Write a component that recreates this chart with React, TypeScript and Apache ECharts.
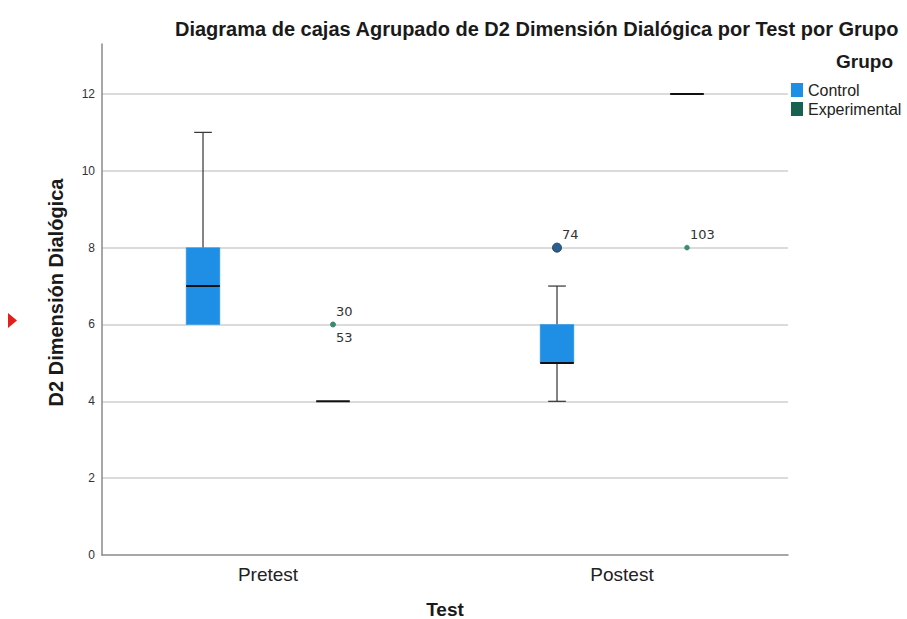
import React, { useEffect, useRef } from 'react';
import * as echarts from 'echarts';

const categories = ['Pretest', 'Postest'];
const groups = ['Control', 'Experimental'];
// [min, Q1, median, Q3, max] per test
const controlBoxes = [
  [6, 6, 7, 8, 11],
  [4, 5, 5, 6, 7],
];
const experimentalBoxes = [
  [4, 4, 4, 4, 4],
  [12, 12, 12, 12, 12],
];
const controlOutliers = [{ test: 'Postest', value: 8, id: '74' }];
const experimentalOutliers = [
  { test: 'Pretest', value: 6, id: '30' },
  { test: 'Pretest', value: 6, id: '53' },
  { test: 'Postest', value: 8, id: '103' },
];
const yMin = 0;
const yMax = 13.3;
const yInterval = 2;

const FONT = "'Liberation Sans', Arial, sans-serif";
const COLORS = { Control: '#1f8fe6', Experimental: '#17614f' };
const OUTLIER_COLORS = { Control: '#2b5f8e', Experimental: '#3d8a74' };
const OFFSET = 0.1836;
const BOXW = 0.095;
const CAPW = 0.05;

const GRID_TOP = 44;
const GRID_BOTTOM = 64;

function boxData(boxes: number[][]) {
  return boxes.map((b, i) => [i, ...b]);
}

function outlierData(list: { test: string; value: number; id: string }[]) {
  return list.map((o, i) => {
    const stack = list.slice(0, i).filter((p) => p.test === o.test && p.value === o.value).length;
    return [categories.indexOf(o.test), o.value, stack, o.id];
  });
}

function makeBoxRender(side: number, color: string) {
  return (params: any, api: any) => {
    const cat = api.value(0);
    const band = api.size([1, 0])[0];
    const cx = api.coord([cat, 0])[0] + side * band * OFFSET;
    const y = (v: number) => api.coord([cat, v])[1];
    const pMin = y(api.value(1));
    const pQ1 = y(api.value(2));
    const pMed = y(api.value(3));
    const pQ3 = y(api.value(4));
    const pMax = y(api.value(5));
    const w = band * BOXW;
    const cw = band * CAPW;
    const wStyle = { stroke: '#333', lineWidth: 1.2 };
    const children: any[] = [];
    if (pMax < pQ3 - 0.5) {
      children.push({ type: 'line', shape: { x1: cx, y1: pQ3, x2: cx, y2: pMax }, style: wStyle });
      children.push({ type: 'line', shape: { x1: cx - cw / 2, y1: pMax, x2: cx + cw / 2, y2: pMax }, style: wStyle });
    }
    if (pMin > pQ1 + 0.5) {
      children.push({ type: 'line', shape: { x1: cx, y1: pQ1, x2: cx, y2: pMin }, style: wStyle });
      children.push({ type: 'line', shape: { x1: cx - cw / 2, y1: pMin, x2: cx + cw / 2, y2: pMin }, style: wStyle });
    }
    if (pQ1 - pQ3 > 0.5) {
      children.push({
        type: 'rect',
        shape: { x: cx - w / 2, y: pQ3, width: w, height: pQ1 - pQ3 },
        style: { fill: color, stroke: color, lineWidth: 0.5 },
      });
    }
    children.push({
      type: 'line',
      shape: { x1: cx - w / 2, y1: pMed, x2: cx + w / 2, y2: pMed },
      style: { stroke: '#111', lineWidth: 2 },
    });
    return { type: 'group', children };
  };
}

function makeOutlierRender(side: number, color: string, big: boolean) {
  return (params: any, api: any) => {
    const cat = api.value(0);
    const band = api.size([1, 0])[0];
    const cx = api.coord([cat, 0])[0] + side * band * OFFSET;
    const cy = api.coord([cat, api.value(1)])[1];
    const stack = api.value(2);
    const id = String(api.value(3));
    const r = big ? 4.5 : 2.5;
    const labelY = stack === 0 ? cy - 13 : cy + 13;
    return {
      type: 'group',
      children: [
        {
          type: 'circle',
          shape: { cx, cy, r },
          style: { fill: color, stroke: big ? '#1d4266' : color, lineWidth: big ? 1 : 0.5 },
        },
        {
          type: 'text',
          x: cx + (big ? 5 : 3),
          y: labelY,
          style: {
            text: id,
            fill: '#333',
            fontSize: 13,
            fontFamily: "'DejaVu Sans', sans-serif",
            verticalAlign: 'middle',
            align: 'left',
          },
        },
      ],
    };
  };
}

export default function App() {
  const ref = useRef<HTMLDivElement>(null);
  useEffect(() => {
    if (!ref.current) return;
    const chart = echarts.init(ref.current, undefined, { renderer: 'svg' });
    const nameStyle = { fontSize: 19, fontWeight: 'bold', color: '#1a1a1a', fontFamily: FONT };
    chart.setOption({
      animation: false,
      backgroundColor: '#ffffff',
      textStyle: { fontFamily: FONT },
      title: [
        {
          text: 'Diagrama de cajas Agrupado de D2 Dimensión Dialógica por Test por Grupo',
          left: 175,
          top: 19,
          padding: 0,
          textStyle: { fontSize: 20, fontWeight: 'bold', color: '#1a1a1a', fontFamily: FONT },
        },
        {
          text: 'Grupo',
          left: 836,
          top: 52,
          padding: 0,
          textStyle: { fontSize: 19, fontWeight: 'bold', color: '#1a1a1a', fontFamily: FONT },
        },
      ],
      legend: {
        data: groups,
        orient: 'vertical',
        left: 791,
        top: 82,
        padding: 0,
        itemWidth: 12,
        itemHeight: 14,
        itemGap: 3,
        icon: 'rect',
        textStyle: { fontSize: 16, color: '#222', fontFamily: FONT },
      },
      graphic: [
        {
          type: 'polygon',
          shape: { points: [[8, 313], [17, 320.5], [8, 328]] },
          style: { fill: '#e0201b' },
        },
      ],
      grid: [
        { left: 102, right: 119, top: GRID_TOP, bottom: GRID_BOTTOM, containLabel: false, outerBoundsMode: 'none' },
        { left: 91, right: 108, top: GRID_TOP, bottom: GRID_BOTTOM, containLabel: false, outerBoundsMode: 'none' },
      ],
      xAxis: [
        {
          gridIndex: 0,
          type: 'category',
          data: categories,
          boundaryGap: true,
          name: 'Test',
          nameLocation: 'middle',
          nameGap: 45,
          nameTextStyle: nameStyle,
          axisLine: { lineStyle: { color: '#8a8a8a', width: 1.5 } },
          axisTick: { show: false },
          axisLabel: { show: false },
          splitLine: { show: false },
        },
        {
          gridIndex: 1,
          type: 'category',
          data: categories,
          boundaryGap: true,
          axisLine: { show: false },
          axisTick: { show: false },
          axisLabel: { fontSize: 19, color: '#222', margin: 10, fontFamily: FONT },
          splitLine: { show: false },
        },
      ],
      yAxis: [
        {
          gridIndex: 0,
          type: 'value',
          min: yMin,
          max: yMax,
          interval: yInterval,
          name: 'D2 Dimensión Dialógica',
          nameLocation: 'middle',
          nameGap: 36,
          nameTextStyle: { ...nameStyle, fontSize: 20, padding: [0, 0, 0, 14] },
          axisLine: { show: true, lineStyle: { color: '#8a8a8a', width: 1.5 } },
          axisTick: { show: false },
          axisLabel: { fontSize: 12, color: '#333', margin: 7, showMaxLabel: false, fontFamily: FONT },
          splitLine: {
            show: true,
            showMaxLine: false,
            showMinLine: false,
            lineStyle: { color: '#cfcfcf', width: 1.5 },
          },
        },
        {
          gridIndex: 1,
          type: 'value',
          min: yMin,
          max: yMax,
          interval: yInterval,
          show: false,
          splitLine: { show: false },
        },
      ],
      series: [
        {
          name: 'Control',
          type: 'custom',
          xAxisIndex: 1,
          yAxisIndex: 1,
          itemStyle: { color: COLORS.Control },
          renderItem: makeBoxRender(-1, COLORS.Control),
          encode: { x: 0, y: [1, 2, 3, 4, 5] },
          data: boxData(controlBoxes),
          z: 3,
        },
        {
          name: 'Experimental',
          type: 'custom',
          xAxisIndex: 1,
          yAxisIndex: 1,
          itemStyle: { color: COLORS.Experimental },
          renderItem: makeBoxRender(1, COLORS.Experimental),
          encode: { x: 0, y: [1, 2, 3, 4, 5] },
          data: boxData(experimentalBoxes),
          z: 3,
        },
        {
          name: 'Control atípicos',
          type: 'custom',
          xAxisIndex: 1,
          yAxisIndex: 1,
          renderItem: makeOutlierRender(-1, OUTLIER_COLORS.Control, true),
          encode: { x: 0, y: 1 },
          data: outlierData(controlOutliers),
          z: 4,
        },
        {
          name: 'Experimental atípicos',
          type: 'custom',
          xAxisIndex: 1,
          yAxisIndex: 1,
          renderItem: makeOutlierRender(1, OUTLIER_COLORS.Experimental, false),
          encode: { x: 0, y: 1 },
          data: outlierData(experimentalOutliers),
          z: 4,
        },
      ],
    });
    return () => chart.dispose();
  }, []);
  return (
    <div
      ref={ref}
      style={{ position: 'fixed', left: 0, top: 0, width: 907, height: 619, background: '#fff' }}
    />
  );
}
